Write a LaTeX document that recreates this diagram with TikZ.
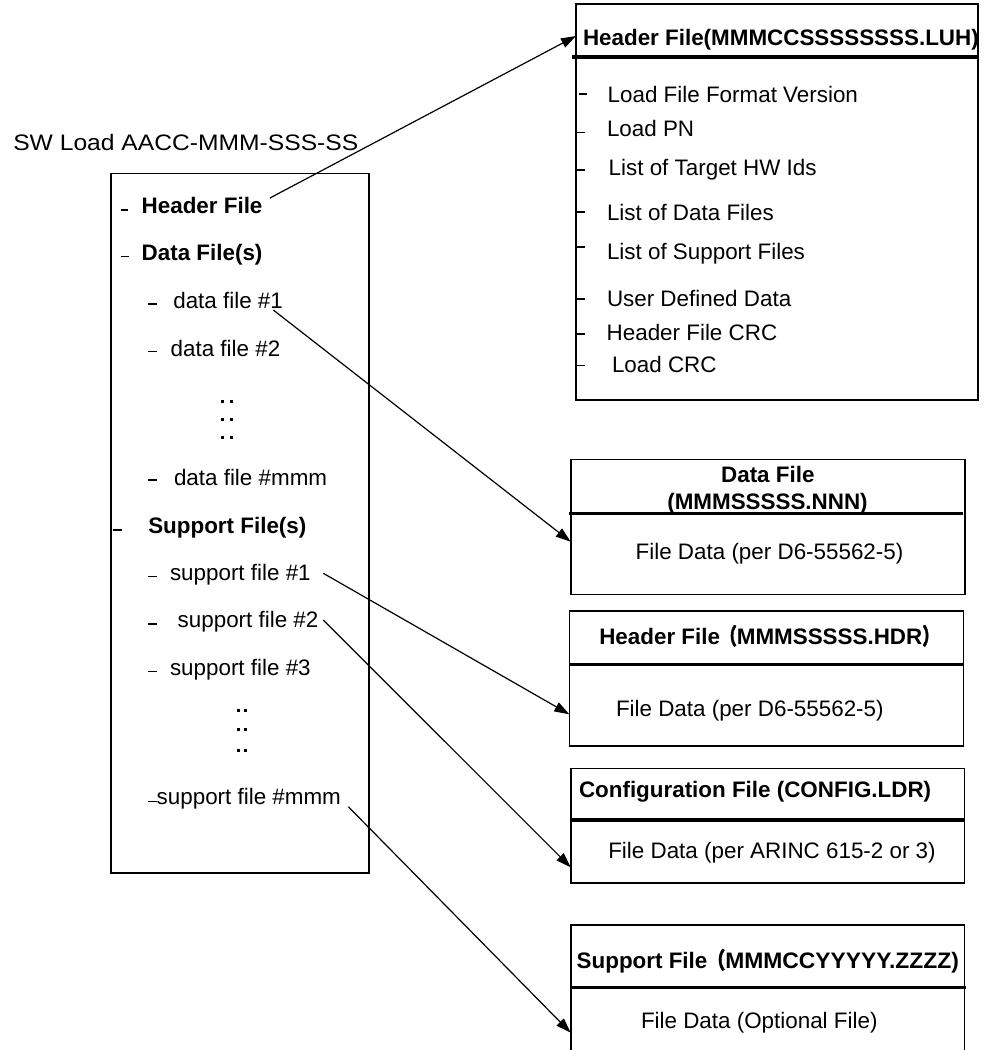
\documentclass[tikz,border=0pt]{standalone}
\usepackage{fontspec}
\usepackage{graphicx}
\setmainfont{Liberation Sans}
\newfontfamily\cjkfont[FakeBold=2]{Noto Sans CJK SC}
\usetikzlibrary{arrows.meta}

% narrow full-width parentheses
\newcommand{\fwopen}[1]{\scalebox{#1}[1]{\cjkfont （}}
\newcommand{\fwclose}[1]{\scalebox{#1}[1]{\cjkfont ）}}

\begin{document}
\begin{tikzpicture}[x=1pt,y=-1pt,
  txt/.style={inner sep=0pt, outer sep=0pt, anchor=base west, font=\fontsize{22.4}{27}\selectfont},
  btxt/.style={txt, font=\fontsize{22.4}{27}\selectfont\bfseries},
  ctxt/.style={txt, anchor=base},
  cbtxt/.style={btxt, anchor=base},
  frame/.style={draw, line width=1.6pt, inner sep=0pt, outer sep=0pt, anchor=north west},
  divider/.style={line width=3.6pt},
  tick/.style={line width=1.3pt},
  link/.style={line width=1.2pt, -{Triangle[length=15pt,width=10pt]}}
]
\useasboundingbox[fill=white] (0,0) rectangle (985,1050);
\clip (0,0) rectangle (985,1050);

% ---------- load title ----------
\node[txt] (title) at (13.3,150.7) {\scalebox{1.1}[1]{SW Load AACC-MMM-SSS-SS}};

% ---------- left: contents of the software load ----------
\node[frame, minimum width=258.3pt, minimum height=699.7pt] (lb) at (110.7,173.3) {};

\node[btxt] (lhdr) at (141.7,213)   {Header File};
\node[btxt] (ldat) at (141.7,260.7) {Data File(s)};
\node[txt]  (df1)  at (173.3,308.3) {data file \#1};
\node[txt]  (df2)  at (170.7,356)   {data file \#2};
\node[txt]  (dfm)  at (174,485)     {data file \#mmm};
\node[btxt] (lsup) at (148.3,533.3) {Support File(s)};
\node[txt]  (sf1)  at (170,580)     {support file \#1};
\node[txt]  (sf2)  at (177.7,627.3) {support file \#2};
\node[txt]  (sf3)  at (170,675)     {support file \#3};
\node[txt]  (sfm)  at (156.7,804)   {support file \#mmm};

\draw[tick] (120.7,210) -- (128.3,210);
\draw[tick] (121,256.7) -- (128.5,256.7);
\draw[tick] (148,304) -- (157,304);
\draw[tick] (148,351.7) -- (157,351.7);
\draw[tick] (148,480) -- (157,480);
\draw[tick] (112.7,530) -- (121.7,530);
\draw[tick] (148,576.7) -- (157,576.7);
\draw[tick] (148,624) -- (157,624);
\draw[tick] (148,671.7) -- (157,671.7);
\draw[tick] (148.3,801.7) -- (156.7,801.7);

% ellipsis dots
\foreach \y in {401.7,419.3,437.7}
  \foreach \x in {222.5,231}
    \fill (\x-1.5,\y-1.5) rectangle ++(3,3);
\foreach \y in {710,729.3,750.7}
  \foreach \x in {238.3,245.7}
    \fill (\x-1.5,\y-1.5) rectangle ++(3,3);

% ---------- right: load header file ----------
\node[frame, minimum width=402pt, minimum height=396pt] (hf) at (576,4) {};
\draw[divider] ([xshift=-4pt,yshift=-53pt]hf.north west) -- ([yshift=-53pt]hf.north east);
\node[btxt] (hft) at (583,45) {Header File(MMMCCSSSSSSSS.LUH)};

\node[txt] (h1) at (607.7,102.7) {Load File Format Version};
\node[txt] (h2) at (607,136.7)   {Load PN};
\node[txt] (h3) at (608.7,175.7) {List of Target HW Ids};
\node[txt] (h4) at (607,220)     {List of Data Files};
\node[txt] (h5) at (607,259)     {List of Support Files};
\node[txt] (h6) at (607,306)     {User Defined Data};
\node[txt] (h7) at (606.7,340.7) {Header File CRC};
\node[txt] (h8) at (612,372)     {Load CRC};

\draw[tick] (579,94) -- (587,94);
\foreach \y in {132.7,170,212,247,299,334,365.7}
  \draw[tick] (577,\y) -- (585,\y);

% ---------- data file ----------
\node[frame, minimum width=394.3pt, minimum height=135pt] (dfb) at (570.7,459.3) {};
\draw[divider] ([xshift=-1.7pt,yshift=-54pt]dfb.north west) -- ([xshift=-2pt,yshift=-54pt]dfb.north east);
\node[cbtxt] (dft1) at (767.8,482.7) {Data File};
\node[cbtxt] (dft2) at (767.5,509)   {(MMMSSSSS.NNN)};
\node[txt]   (dfd)  at (635.7,559.3) {File Data (per D6-55562-5)};

% ---------- header file (.HDR) ----------
\node[frame, minimum width=394pt, minimum height=135pt] (hd) at (569.3,611) {};
\draw[divider] ([yshift=-53.3pt]hd.north west) -- ([yshift=-53.3pt]hd.north east);
\node[btxt] (hdt) at (599.3,644.3) {Header File\fwopen{0.75}MMMSSSSS.HDR\fwclose{0.75}};
\node[txt]  (hdd) at (616,716.7)   {File Data (per D6-55562-5)};

% ---------- configuration file ----------
\node[frame, minimum width=393.6pt, minimum height=114.4pt] (cf) at (570.7,768.3) {};
\draw[divider] ([yshift=-51.7pt]cf.north west) -- ([yshift=-51.7pt]cf.north east);
\node[btxt] (cft) at (579,797.3)   {Configuration File (CONFIG.LDR)};
\node[txt]  (cfd) at (608.3,858.3) {File Data (per ARINC 615-2 or 3)};

% ---------- support file ----------
\node[frame, minimum width=393.6pt, minimum height=140pt] (sp) at (570.7,925) {};
\draw[divider] ([yshift=-62.3pt]sp.north west) -- ([xshift=1.7pt,yshift=-62.3pt]sp.north east);
\node[btxt] (spt) at (576.7,968.3) {Support File\fwopen{0.8}\scalebox{1.02}[1]{MMMCCYYYYY.ZZZZ)}};
\node[txt]  (spd) at (641,1028.3)  {File Data (Optional File)};

% ---------- references from the load to its files ----------
\draw[link] ([xshift=7.5pt,yshift=15pt]lhdr.base east) -- ([yshift=-32pt]hf.north west);
\draw[link] ([xshift=-9.6pt,yshift=-1.7pt]df1.base east) -- ([yshift=-82.4pt]dfb.north west);
\draw[link] ([xshift=12.6pt,yshift=6.7pt]sf1.base east) -- ([yshift=-103.3pt]hd.north west);
\draw[link] ([xshift=4.9pt,yshift=7.3pt]sf2.base east) -- ([yshift=-99pt]cf.north west);
\draw[link] ([xshift=7.4pt,yshift=-2.7pt]sfm.base east) -- ([yshift=-107.7pt]sp.north west);
\end{tikzpicture}
\end{document}
